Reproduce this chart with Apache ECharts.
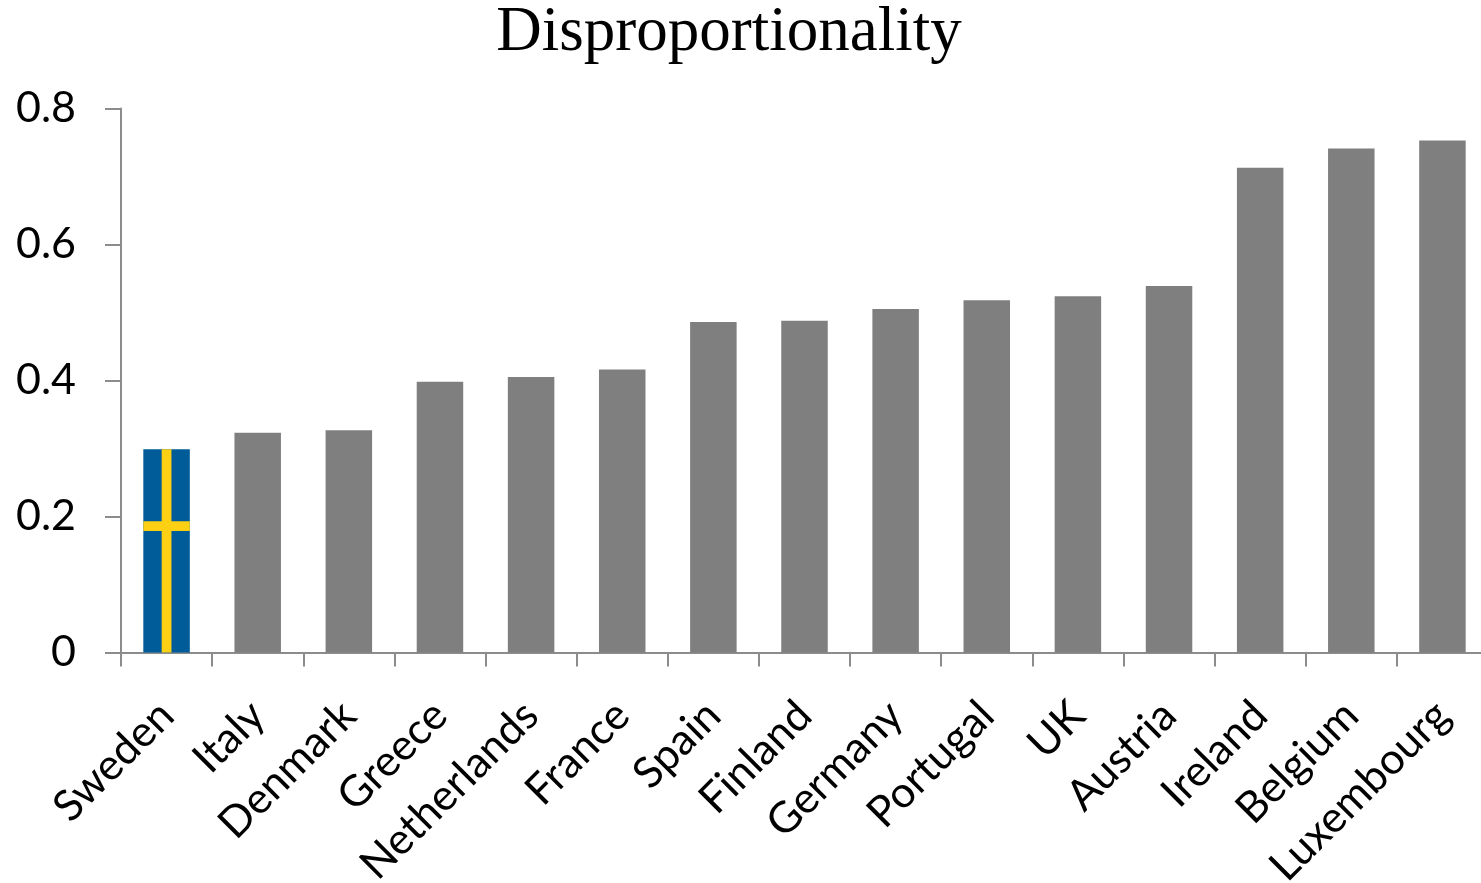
<!DOCTYPE html>
<html>
<head>
<meta charset="utf-8">
<style>html,body{margin:0;padding:0;background:#fff;overflow:hidden}#chart{width:1481px;height:883px}</style>
<script src="https://cdn.jsdelivr.net/npm/echarts@6/dist/echarts.min.js"></script>
</head>
<body>
<div id="chart"></div>
<script>
const countries = ['Sweden','Italy','Denmark','Greece','Netherlands','France','Spain','Finland','Germany','Portugal','UK','Austria','Ireland','Belgium','Luxembourg'];
const disproportionality = [0.299,0.323,0.327,0.398,0.405,0.416,0.486,0.488,0.505,0.518,0.524,0.539,0.713,0.741,0.753];
const yTicks = [0,0.2,0.4,0.6,0.8];
const barColor = '#7f7f7f';
const flagBlue = '#005b99';
const flagYellow = '#fed013';
const axisColor = '#8c8c8c';
const barPx = 46.5;

const chart = echarts.init(document.getElementById('chart'), null, {renderer:'canvas'});

// Swedish cross painted over the first bar, placed through the chart's own scales
function renderCross(params, api) {
  const v = api.value(1);
  const top = api.coord([api.value(0), v]);
  const bottom = api.coord([api.value(0), 0]);
  const h = bottom[1] - top[1];
  const left = top[0] - barPx / 2;
  const style = {fill: flagYellow};
  return {type:'group', children:[
    {type:'rect', shape:{x: left + barPx * 0.395, y: top[1], width: barPx * 0.21, height: h}, style},
    {type:'rect', shape:{x: left, y: top[1] + h * 0.355, width: barPx, height: h * 0.047}, style}
  ]};
}

chart.setOption({
  animation:false,
  title:{text:'Disproportionality', left:724, top:-3, textAlign:'center',
    textStyle:{fontFamily:'Liberation Serif', fontSize:63, fontWeight:'normal', color:'#000'}},
  grid:{left:121, right:-7, top:108.5, bottom:230.5, outerBoundsMode:'none'},
  xAxis:{type:'category', data:countries,
    axisLine:{lineStyle:{color:axisColor,width:2}},
    axisTick:{show:true,length:14,lineStyle:{color:axisColor,width:2}},
    axisLabel:{rotate:45,interval:0,margin:56,fontFamily:'Lato',fontSize:43,color:'#000'}},
  yAxis:{type:'value', min:yTicks[0], max:yTicks[yTicks.length-1], interval:0.2,
    splitLine:{show:false},
    axisLine:{show:true,lineStyle:{color:axisColor,width:2}},
    axisTick:{show:true,length:16,lineStyle:{color:axisColor,width:2}},
    axisLabel:{margin:45,fontFamily:'Lato',fontSize:43,color:'#000',formatter:v=>String(+v.toFixed(1))}},
  series:[
    {type:'bar', barWidth:barPx, silent:true,
     data:disproportionality.map((v,i)=> i===0 ? {value:v,itemStyle:{color:flagBlue}} : v),
     itemStyle:{color:barColor}},
    {type:'custom', silent:true, renderItem:renderCross, z:5,
     data:[[countries[0], disproportionality[0]]]}
  ]
});
</script>
</body>
</html>
